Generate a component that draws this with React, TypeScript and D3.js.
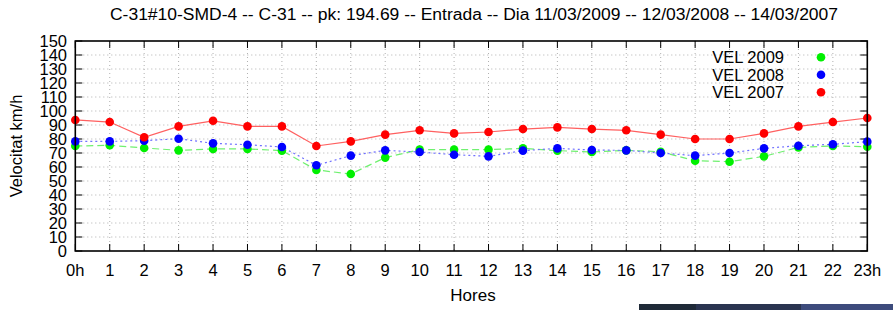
import React from "react";
import * as d3 from "d3";

const hours = d3.range(0, 24);
const hourLabels = hours.map((h) => (h === 0 ? "0h" : h === 23 ? "23h" : String(h)));
const yTicks = d3.range(0, 151, 10);

const vel2009 = [75, 75.5, 73.6, 71.9, 72.9, 72.9, 71.7, 57.9, 55, 66.7, 72.4, 72.4, 72.4, 73.3, 71.7, 70.7, 71.9, 70.9, 64.5, 63.8, 67.6, 74, 75, 74.5];
const vel2008 = [78.3, 78.3, 78.8, 80.2, 76.9, 75.9, 74.3, 61.2, 68.1, 71.9, 70.7, 68.8, 67.6, 71.7, 73.3, 72.1, 71.9, 70, 68.1, 70, 73.3, 75.2, 76.2, 78.1];
const vel2007 = [93.6, 92.1, 81.2, 89, 93, 89, 89, 75, 78.3, 83.1, 86.2, 84, 85, 87.1, 88.3, 87.1, 86.2, 83.1, 80, 80, 84, 89, 92.1, 95];

const series = [
  { name: "VEL 2009", values: vel2009, color: "#00f000", line: "#70f070", dash: "7,4" },
  { name: "VEL 2008", values: vel2008, color: "#0000ff", line: "#7070ff", dash: "2,3" },
  { name: "VEL 2007", values: vel2007, color: "#ff0000", line: "#ff6060", dash: null },
];

const title = "C-31#10-SMD-4 -- C-31 -- pk: 194.69 -- Entrada -- Dia 11/03/2009 -- 12/03/2008 -- 14/03/2007";

export default function App() {
  const W = 893;
  const H = 310;
  const left = 75.3;
  const right = 867.3;
  const top = 41;
  const bottom = 251;

  const x = d3.scaleLinear().domain([0, 23]).range([left, right]);
  const y = d3.scaleLinear().domain([0, 150]).range([bottom, top]);

  const line = d3
    .line<number>()
    .x((_, i) => x(i))
    .y((d) => y(d));

  const font = "'Liberation Sans', Arial, sans-serif";
  const narrow = "'Liberation Sans Narrow', 'Liberation Sans', sans-serif";

  return (
    <svg
      width={W}
      height={H}
      style={{ position: "absolute", left: 0, top: 0, background: "#fff" }}
    >
      {/* grid */}
      <g stroke="#b0b0b0" strokeWidth={1} strokeDasharray="1,3">
        {hours.slice(1, -1).map((h) => (
          <line key={"gx" + h} x1={x(h)} x2={x(h)} y1={top} y2={bottom} />
        ))}
        {yTicks.slice(1, -1).map((t) => (
          <line key={"gy" + t} x1={left} x2={right} y1={y(t)} y2={y(t)} />
        ))}
      </g>

      {/* ticks */}
      <g stroke="#000" strokeWidth={1}>
        {yTicks.map((t) => (
          <g key={"ty" + t}>
            <line x1={left} x2={left + 7} y1={y(t)} y2={y(t)} />
            <line x1={right} x2={right - 7} y1={y(t)} y2={y(t)} />
          </g>
        ))}
        {hours.map((h) => (
          <g key={"tx" + h}>
            <line x1={x(h)} x2={x(h)} y1={bottom} y2={bottom - 7} />
            <line x1={x(h)} x2={x(h)} y1={top} y2={top + 7} />
          </g>
        ))}
      </g>

      {/* series */}
      {series.map((s) => (
        <g key={s.name}>
          <path
            d={line(s.values) || ""}
            fill="none"
            stroke={s.line}
            strokeWidth={1.2}
            strokeDasharray={s.dash || undefined}
          />
          {s.values.map((v, i) => (
            <circle key={i} cx={x(i)} cy={y(v)} r={4.3} fill={s.color} />
          ))}
        </g>
      ))}

      {/* border */}
      <rect
        x={left}
        y={top}
        width={right - left}
        height={bottom - top}
        fill="none"
        stroke="#000"
        strokeWidth={1.6}
      />

      {/* y tick labels */}
      <g fontFamily={narrow} fontSize={16.5} textAnchor="end" fill="#000">
        {yTicks.map((t) => (
          <text key={"ly" + t} x={67} y={y(t)} dy="0.36em">
            {t}
          </text>
        ))}
      </g>

      {/* x tick labels */}
      <g fontFamily={font} fontSize={16.5} textAnchor="middle" fill="#000">
        {hours.map((h, i) => (
          <text key={"lx" + h} x={x(h)} y={276}>
            {hourLabels[i]}
          </text>
        ))}
      </g>

      {/* legend */}
      <g fontFamily={font} fontSize={16.5} fill="#000">
        {series.map((s, i) => (
          <g key={"lg" + s.name}>
            <text x={784} y={57.3 + i * 17.5} dy="0.36em" textAnchor="end">
              {s.name}
            </text>
            <circle cx={821} cy={57.3 + i * 17.5} r={4.3} fill={s.color} />
          </g>
        ))}
      </g>

      {/* titles */}
      <text
        x={474}
        y={20}
        textAnchor="middle"
        fontFamily={narrow}
        fontSize={16}
        textLength={728}
        lengthAdjust="spacingAndGlyphs"
      >
        {title}
      </text>
      <text x={473} y={301} textAnchor="middle" fontFamily={narrow} fontSize={17}>
        Hores
      </text>
      <text
        transform={`translate(22,${(top + bottom) / 2}) rotate(-90)`}
        textAnchor="middle"
        fontFamily={font}
        fontSize={16.5}
      >
        Velocitat km/h
      </text>

      {/* strip of another image at the bottom edge of the screenshot */}
      <g>
        <rect x={639} y={304} width={57} height={6} fill="#1f2a38" />
        <rect x={696} y={304} width={105} height={6} fill="#2a3450" />
        <rect x={801} y={304} width={92} height={6} fill="#3d4b7c" />
      </g>
    </svg>
  );
}
